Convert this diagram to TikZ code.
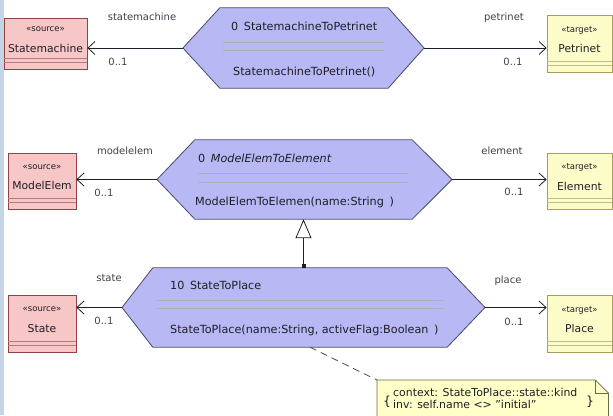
\documentclass[tikz,border=0pt]{standalone}
\usepackage{fontspec}
\setmainfont{DejaVu Sans}
\usetikzlibrary{arrows.meta,positioning,calc}

\definecolor{hexfill}{HTML}{B8B8F4}
\definecolor{hexdraw}{HTML}{4A4A6A}
\definecolor{srcfill}{HTML}{F7C6C6}
\definecolor{srcdraw}{HTML}{8E4444}
\definecolor{tgtfill}{HTML}{FCFCC8}
\definecolor{tgtdraw}{HTML}{A89C62}
\definecolor{notefill}{HTML}{FFFFC8}
\definecolor{notedraw}{HTML}{6A6A48}
\definecolor{txt}{HTML}{1E1E28}
\definecolor{stripe}{HTML}{C6D5E6}

\newcommand\cls[2]{{\fontsize{8.5}{10}\selectfont«#1»}\\[8pt]#2\rule[-8pt]{0pt}{0pt}}

\begin{document}
\begin{tikzpicture}[x=1pt, y=-1pt,
  font=\fontsize{10.8}{12.6}\selectfont, text=txt,
  src/.style={draw=srcdraw, fill=srcfill, align=center, inner sep=0pt, line width=0.8pt},
  tgt/.style={draw=tgtdraw, fill=tgtfill, align=center, inner sep=0pt, line width=0.8pt},
  hexbody/.style={inner sep=0pt},
  hexedge/.style={draw=hexdraw, fill=hexfill, line width=0.8pt},
  hexsep/.style={draw=hexdraw!45, line width=0.5pt, shorten <=3pt, shorten >=4pt},
  ops/.style={anchor=west, inner sep=0pt, font=\fontsize{11.2}{13}\selectfont},
  lbl/.style={font=\fontsize{10}{11}\selectfont, text=txt!85, inner sep=0pt},
  assoc/.style={draw=txt, line width=0.8pt, -{Straight Barb[length=7pt, width=13pt]}},
  gen/.style={draw=txt, line width=0.8pt,
              {Square[length=4pt, width=4pt]}-{Triangle[open, length=19pt, width=16pt, fill=white]}},
  anchorline/.style={draw=txt!80, line width=0.8pt, dash pattern=on 7pt off 5pt},
  notebox/.style={draw=notedraw, fill=notefill, line width=0.7pt}
]
  \useasboundingbox (0,0) rectangle (613,415);
  \fill[stripe] (0,0) rectangle (4,415);

  % source and target classes
  \node[src, minimum width=83pt, minimum height=51pt] (sm) at (45.5,43.5) {\cls{source}{Statemachine}};
  \node[src, minimum width=68pt, minimum height=56pt] (me) at (42,181)    {\cls{source}{ModelElem}};
  \node[src, minimum width=68pt, minimum height=57pt] (st) at (42,323.5)  {\cls{source}{State}};
  \node[tgt, minimum width=65pt, minimum height=57pt] (pn) at (579.5,43.5)  {\cls{target}{Petrinet}};
  \node[tgt, minimum width=65pt, minimum height=56pt] (el) at (579.5,181)   {\cls{target}{Element}};
  \node[tgt, minimum width=65pt, minimum height=57pt] (pl) at (579.5,323.5) {\cls{target}{Place}};
  \foreach \n/\c in {sm/srcdraw, me/srcdraw, st/srcdraw, pn/tgtdraw, el/tgtdraw, pl/tgtdraw}
    \draw[\c!70, line width=0.5pt] ([yshift=11pt]\n.south west) -- ([yshift=11pt]\n.south east)
                                   ([yshift=7pt]\n.south west) -- ([yshift=7pt]\n.south east);

  % rules
  \node[hexbody, minimum width=168pt, minimum height=80pt] (hA) at (304,48) {};
  \node[hexbody, minimum width=217pt, minimum height=79pt] (hB) at (303.5,179.5) {};
  \node[hexbody, minimum width=294pt, minimum height=79pt] (hC) at (300,307.5) {};
  \foreach \n/\l/\r in {hA/183/424, hB/157/452, hC/122/485}{
    \coordinate (\n-l) at (\n.west -| \l,0);
    \coordinate (\n-r) at (\n.east -| \r,0);
    \draw[hexedge] (\n.north west) -- (\n-l) -- (\n.south west) -- (\n.south east)
                   -- (\n-r) -- (\n.north east) -- cycle;
  }
  \foreach \n/\a/\b in {hA/42/50, hB/173/182, hC/300/308}{
    \draw[hexsep] (\n.west |- 0,\a) -- (\n.east |- 0,\a);
    \draw[hexsep] (\n.west |- 0,\b) -- (\n.east |- 0,\b);
  }
  \node[ops] (hA-t) at (231,26)  {0\enspace StatemachineToPetrinet};
  \node[ops] (hA-o) at (233,72)  {StatemachineToPetrinet()};
  \node[ops] (hB-t) at (198,158) {0\enspace\textit{ModelElemToElement}};
  \node[ops] (hB-o) at (195,202) {ModelElemToElemen(name:String\enspace)};
  \node[ops] (hC-t) at (170,285) {10\enspace StateToPlace};
  \node[ops] (hC-o) at (170,330) {StateToPlace(name:String, activeFlag:Boolean\enspace)};

  % associations
  \draw[assoc] (hA-l) -- (hA-l -| sm.east);
  \draw[assoc] (hA-r) -- (hA-r -| pn.west);
  \draw[assoc] (hB-l) -- (hB-l -| me.east);
  \draw[assoc] (hB-r) -- (hB-r -| el.west);
  \draw[assoc] (hC-l) -- (hC-l -| st.east);
  \draw[assoc] (hC-r) -- (hC-r -| pl.west);
  \node[lbl] (a1) at (142,17)  {statemachine};
  \node[lbl] (m1) at (118,62)  {0..1};
  \node[lbl] (a2) at (504,18)  {petrinet};
  \node[lbl] (m2) at (513,62)  {0..1};
  \node[lbl] (a3) at (125,151) {modelelem};
  \node[lbl] (m3) at (104,193) {0..1};
  \node[lbl] (a4) at (502,151) {element};
  \node[lbl] (m4) at (514,192) {0..1};
  \node[lbl] (a5) at (109,278) {state};
  \node[lbl] (m5) at (104,321) {0..1};
  \node[lbl] (a6) at (508,281) {place};
  \node[lbl] (m6) at (514,322) {0..1};

  % inheritance
  \draw[gen] (hC.north -| hB.south) -- (hB.south);

  % constraint note
  \node[inner sep=0pt, minimum width=231pt, minimum height=50pt, anchor=north west] (nt) at (377,380) {};
  \draw[anchorline] (hC.south -| 310,0) -- (nt.north west);
  \draw[notebox] (nt.north west) -- ([xshift=-13pt]nt.north east) -- ([yshift=-13pt]nt.north east)
                 -- (nt.south east) -- (nt.south west) -- cycle;
  \draw[notebox, fill=none] ([xshift=-13pt]nt.north east) |- ([yshift=-13pt]nt.north east);
  \node[inner sep=0pt, anchor=west, font=\fontsize{10.9}{12}\selectfont] (ntx) at (393,400)
    {\begin{tabular}{@{}l@{}}context: StateToPlace::state::kind\\inv: self.name <> "initial"\end{tabular}};
  \node[inner sep=0pt, font=\fontsize{12.5}{13}\selectfont] (nb1) at (387,402) {\{};
  \node[inner sep=0pt, font=\fontsize{12.5}{13}\selectfont] (nb2) at (590,402) {\}};
\end{tikzpicture}
\end{document}
